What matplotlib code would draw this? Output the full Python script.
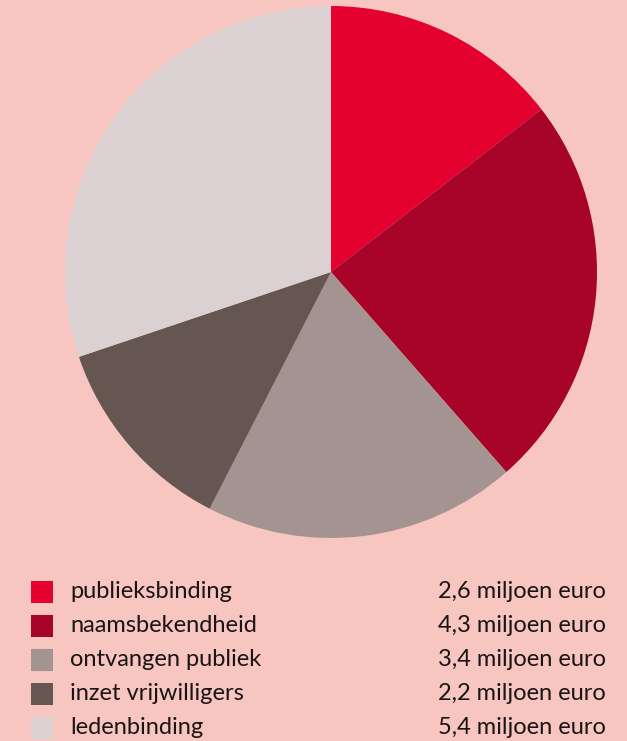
import matplotlib.pyplot as plt
import matplotlib.patches as patches

categories = ["publieksbinding", "naamsbekendheid", "ontvangen publiek",
              "inzet vrijwilligers", "ledenbinding"]
values = [2.6, 4.3, 3.4, 2.2, 5.4]
value_labels = ["2,6 miljoen euro", "4,3 miljoen euro", "3,4 miljoen euro",
                "2,2 miljoen euro", "5,4 miljoen euro"]
colors = ["#E4002F", "#A8042A", "#A39391", "#665651", "#DBD1D2"]

bg = "#F7C6C0"

fig = plt.figure(figsize=(6.27, 7.41), dpi=100)
fig.patch.set_facecolor(bg)

# pie
ax = fig.add_axes([65 / 627, 1 - 538 / 741, 532 / 627, 532 / 741])
ax.set_facecolor(bg)
ax.pie(values, colors=colors, startangle=90, counterclock=False,
       wedgeprops=dict(linewidth=0))
ax.set_xlim(-1, 1)
ax.set_ylim(-1, 1)
ax.set_aspect("equal")
ax.axis("off")

# legend
row_y = [592, 626, 660, 694, 728]
for cat, lab, c, y in zip(categories, value_labels, colors, row_y):
    fy = 1 - y / 741
    fig.patches.append(patches.Rectangle((31 / 627, fy - 11 / 741), 22 / 627, 22 / 741,
                                         transform=fig.transFigure, facecolor=c,
                                         edgecolor="none"))
    fig.text(70 / 627, fy, cat, fontsize=17, family="Lato", color="#1A1414",
             ha="left", va="center")
    fig.text(606 / 627, fy, lab, fontsize=17, family="Lato", color="#1A1414",
             ha="right", va="center")

plt.savefig("out.png", dpi=100, facecolor=bg)
